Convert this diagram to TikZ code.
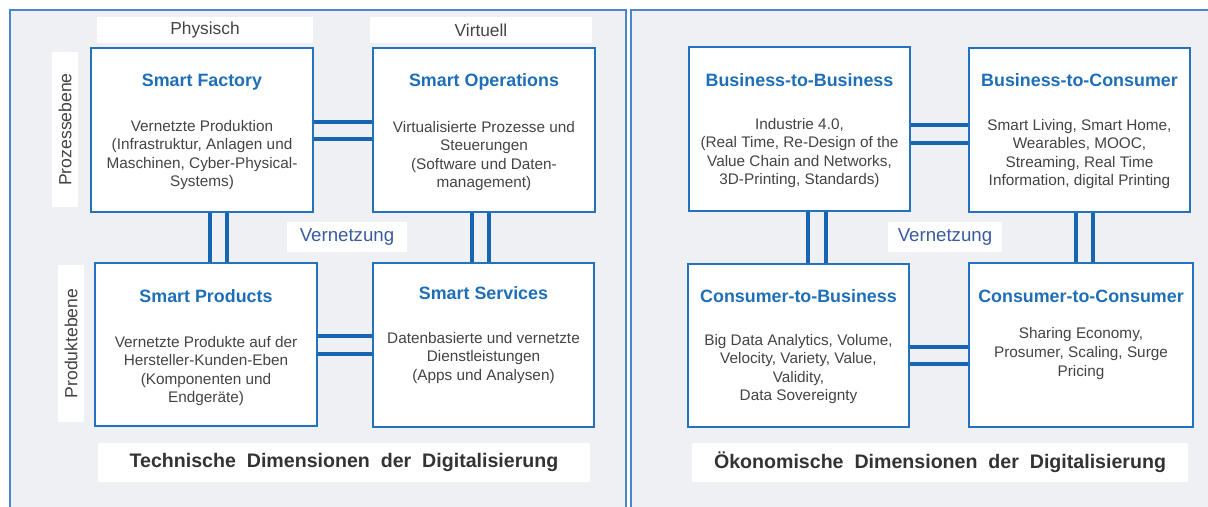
\documentclass[tikz,border=0pt]{standalone}
\usepackage{fontspec}
\setmainfont{Liberation Sans}
\definecolor{panelbg}{HTML}{EEF0F4}
\definecolor{panelline}{HTML}{4A86C8}
\definecolor{boxblue}{HTML}{2471BD}
\definecolor{connblue}{HTML}{1565B0}
\definecolor{headblue}{HTML}{1F6EB8}
\definecolor{textgray}{HTML}{444444}
\definecolor{netblue}{HTML}{3A5BA0}
\definecolor{titlegray}{HTML}{333333}
\tikzset{
  panel/.style={fill=panelbg, draw=panelline, line width=0.8pt},
  wlabel/.style={fill=white, draw=none, inner sep=0pt, text=textgray, font=\fontsize{13}{15}\selectfont},
  sidelabel/.style={fill=white, draw=none, inner sep=0pt, text=textgray, rotate=90, minimum height=19.5pt, font=\fontsize{13.2}{15}\selectfont},
  cbox/.style={draw=boxblue, fill=white, line width=1.1pt, inner sep=0pt},
  head/.style={text=headblue, font=\bfseries\fontsize{13.4}{16}\selectfont, inner sep=0pt},
  bodytext/.style={text=textgray, align=center, font=\fontsize{11.5}{13.9}\selectfont, inner sep=0pt},
  conn/.style={draw=connblue, line width=3.2pt},
  netlabel/.style={fill=white, draw=none, inner sep=0pt, text=netblue, minimum height=22.5pt, font=\fontsize{14}{16}\selectfont},
  dimtitle/.style={fill=white, draw=none, inner sep=0pt, text=titlegray, minimum height=29.25pt, font=\bfseries\fontsize{14.7}{17}\selectfont},
}
\begin{document}
\begin{tikzpicture}[x=0.75pt, y=-0.75pt]
\useasboundingbox (0,0) rectangle (1208,507);
\clip (0,0) rectangle (1208,507);
\fill[white] (0,0) rectangle (1208,507);
% panels
\draw[panel] (10,10) rectangle (626,520);
\draw[panel] (631,10) rectangle (1220,520);

% ---------- left panel ----------
\node[wlabel, minimum width=162pt, minimum height=19.5pt] (phys) at (205,30) {Physisch};
\node[wlabel, minimum width=166.5pt, minimum height=19.5pt] (virt) at (481,30) {Virtuell};
\node[sidelabel, minimum width=116.25pt] (proz) at (65,129.5) {Prozessebene};
\node[sidelabel, minimum width=117.75pt] (prod) at (71,343.5) {Produktebene};

\node[cbox, minimum width=166.5pt, minimum height=123pt] (sf) at (202,130) {};
\node[cbox, minimum width=166.5pt, minimum height=123pt] (so) at (484,130) {};
\node[cbox, minimum width=166.5pt, minimum height=122.25pt] (sp) at (206,344.5) {};
\node[cbox, minimum width=165.75pt, minimum height=123pt] (ss) at (483.5,345) {};

\node[head] (sft) at (202,82) {Smart Factory};
\node[bodytext] (sfb) at (202,155) {Vernetzte Produktion\\(Infrastruktur, Anlagen und\\Maschinen, Cyber-Physical-\\Systems)};
\node[head] (sot) at (484,82) {Smart Operations};
\node[bodytext] (sob) at (484,156) {Virtualisierte Prozesse und\\Steuerungen\\(Software und Daten-\\management)};
\node[head] (spt) at (206,296) {Smart Products};
\node[bodytext] (spb) at (206,371) {Vernetzte Produkte auf der\\Hersteller-Kunden-Eben\\(Komponenten und\\Endgeräte)};
\node[head] (sst) at (483.5,293) {Smart Services};
\node[bodytext] (ssb) at (483.5,358) {Datenbasierte und vernetzte\\Dienstleistungen\\(Apps und Analysen)};

\node[netlabel, minimum width=90pt] (netl) at (347,237) {Vernetzung};
\node[dimtitle, minimum width=369pt] (diml) at (344,462.5) {Technische\ \ Dimensionen\ \ der\ \ Digitalisierung};

\coordinate (h1a) at (0,122); \coordinate (h1b) at (0,139);
\coordinate (h2a) at (0,336); \coordinate (h2b) at (0,354);
\coordinate (v1a) at (210,0); \coordinate (v1b) at (227,0);
\coordinate (v2a) at (472,0); \coordinate (v2b) at (489,0);
\draw[conn] (sf.east |- h1a) -- (so.west |- h1a);
\draw[conn] (sf.east |- h1b) -- (so.west |- h1b);
\draw[conn] (sp.east |- h2a) -- (ss.west |- h2a);
\draw[conn] (sp.east |- h2b) -- (ss.west |- h2b);
\draw[conn] (sf.south -| v1a) -- (sp.north -| v1a);
\draw[conn] (sf.south -| v1b) -- (sp.north -| v1b);
\draw[conn] (so.south -| v2a) -- (ss.north -| v2a);
\draw[conn] (so.south -| v2b) -- (ss.north -| v2b);

% ---------- right panel ----------
\node[cbox, minimum width=165.75pt, minimum height=123pt] (bb) at (799.5,129) {};
\node[cbox, minimum width=165.75pt, minimum height=123pt] (bc) at (1079.5,130) {};
\node[cbox, minimum width=165.75pt, minimum height=122.25pt] (cb) at (798.5,345.5) {};
\node[cbox, minimum width=168pt, minimum height=123pt] (cc) at (1081,345) {};

\node[head] (bbt) at (799.5,80) {Business-to-Business};
\node[bodytext] (bbb) at (799.5,153) {Industrie 4.0,\\(Real Time, Re-Design of the\\Value Chain and Networks,\\3D-Printing, Standards)};
\node[head] (bct) at (1079.5,80) {Business-to-Consumer};
\node[bodytext] (bcb) at (1079.5,154) {Smart Living, Smart Home,\\Wearables, MOOC,\\Streaming, Real Time\\Information, digital Printing};
\node[head] (cbt) at (798.5,296) {Consumer-to-Business};
\node[bodytext] (cbb) at (798.5,369) {Big Data Analytics, Volume,\\Velocity, Variety, Value,\\Validity,\\Data Sovereignty};
\node[head] (cct) at (1081,296) {Consumer-to-Consumer};
\node[bodytext] (ccb) at (1081,353.5) {Sharing Economy,\\Prosumer, Scaling, Surge\\Pricing};

\node[netlabel, minimum width=85.5pt] (netr) at (945,237) {Vernetzung};
\node[dimtitle, minimum width=372pt] (dimr) at (940,462.5) {Ökonomische\ \ Dimensionen\ \ der\ \ Digitalisierung};

\coordinate (h3a) at (0,125); \coordinate (h3b) at (0,143);
\coordinate (h4a) at (0,347); \coordinate (h4b) at (0,364);
\coordinate (v3a) at (808,0); \coordinate (v3b) at (826,0);
\coordinate (v4a) at (1076,0); \coordinate (v4b) at (1093,0);
\draw[conn] (bb.east |- h3a) -- (bc.west |- h3a);
\draw[conn] (bb.east |- h3b) -- (bc.west |- h3b);
\draw[conn] (cb.east |- h4a) -- (cc.west |- h4a);
\draw[conn] (cb.east |- h4b) -- (cc.west |- h4b);
\draw[conn] (bb.south -| v3a) -- (cb.north -| v3a);
\draw[conn] (bb.south -| v3b) -- (cb.north -| v3b);
\draw[conn] (bc.south -| v4a) -- (cc.north -| v4a);
\draw[conn] (bc.south -| v4b) -- (cc.north -| v4b);
\end{tikzpicture}
\end{document}
